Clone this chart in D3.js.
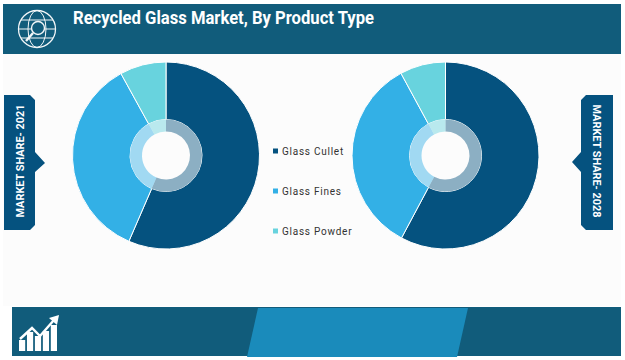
<!DOCTYPE html>
<html>
<head>
<meta charset="utf-8">
<script src="https://cdn.jsdelivr.net/npm/d3@7"></script>
<style>
  html, body { margin: 0; padding: 0; background: #fff; }
  svg { display: block; }
  text { font-family: "Roboto", "Liberation Sans", sans-serif; }
</style>
</head>
<body>
<svg width="625" height="360"></svg>
<script>
const width = 625;
const height = 360;

const title = "Recycled Glass Market, By Product Type";
const categories = ["Glass Cullet", "Glass Fines", "Glass Powder"];
const share2021 = [56.5, 35.5, 8];
const share2028 = [57.8, 34.3, 7.9];
const colors = ["#05527f", "#33b0e6", "#68d3de"];

const svg = d3.select("svg");

svg.append("rect").attr("width", width).attr("height", height).attr("fill", "#fff");
svg.append("rect").attr("x", 3).attr("y", 54).attr("width", 618).attr("height", 252).attr("fill", "#fcfcfc");

// header band
svg.append("rect").attr("x", 3).attr("y", 4).attr("width", 618).attr("height", 50).attr("fill", "#115c7b");
svg.append("text")
  .attr("x", 73)
  .attr("y", 23.5)
  .attr("fill", "#fff")
  .attr("font-size", 18)
  .attr("font-weight", 700)
  .attr("textLength", 301)
  .attr("lengthAdjust", "spacingAndGlyphs")
  .text(title);

// globe with magnifier
const globe = svg.append("g")
  .attr("transform", "translate(37,29)")
  .attr("fill", "none")
  .attr("stroke", "#f2f6f8")
  .attr("stroke-width", 1);
globe.append("circle").attr("r", 18.5).attr("stroke-width", 1.3);
globe.append("ellipse").attr("rx", 9).attr("ry", 18.5);
globe.append("line").attr("x1", -18.5).attr("x2", 18.5);
globe.append("line").attr("x1", -16).attr("x2", 16).attr("y1", -9).attr("y2", -9);
globe.append("line").attr("x1", -16).attr("x2", 16).attr("y1", 9).attr("y2", 9);
globe.append("circle").attr("cx", 1).attr("cy", -1).attr("r", 6.5).attr("fill", "#115c7b").attr("stroke-width", 1.4);
globe.append("line").attr("x1", -4).attr("y1", 4).attr("x2", -11).attr("y2", 12).attr("stroke-width", 2.4);

// footer band
svg.append("rect").attr("x", 12).attr("y", 307).attr("width", 609).attr("height", 49).attr("fill", "#115c7b");
svg.append("path")
  .attr("d", d3.line()([[258, 308], [468, 308], [457, 357], [247, 357]]) + "Z")
  .attr("fill", "#1a8bbb");

// footer icon: rising bars and arrow
const barHeights = [11, 19, 15, 20, 26];
const iconX = d3.scaleBand().domain(d3.range(barHeights.length)).range([19, 57]).paddingInner(0.22);
svg.append("g").selectAll("rect").data(barHeights).enter().append("rect")
  .attr("x", (d, i) => iconX(i))
  .attr("y", (d) => 351 - d)
  .attr("width", iconX.bandwidth())
  .attr("height", (d) => d)
  .attr("fill", "#fff");
svg.append("path")
  .attr("d", "M20,339 L32,328 L40,336 L54,320")
  .attr("fill", "none")
  .attr("stroke", "#fff")
  .attr("stroke-width", 2.4);
svg.append("path").attr("d", "M49,318 L59,315 L57,325 Z").attr("fill", "#fff");

// donuts
const pie = d3.pie().sort(null);
const outerArc = d3.arc().innerRadius(36).outerRadius(93.5);
const ringArc = d3.arc().innerRadius(24).outerRadius(36);

function drawDonut(cx, cy, values) {
  const g = svg.append("g").attr("transform", `translate(${cx},${cy})`);
  const arcs = pie(values);
  g.selectAll("path.slice").data(arcs).enter().append("path")
    .attr("class", "slice")
    .attr("d", outerArc)
    .attr("fill", (d, i) => colors[i])
    .attr("stroke", "#fff")
    .attr("stroke-width", 1);
  g.selectAll("path.ring").data(arcs).enter().append("path")
    .attr("class", "ring")
    .attr("d", ringArc)
    .attr("fill", (d, i) => colors[i])
    .attr("fill-opacity", 0.45);
}
drawDonut(166, 155.5, share2021);
drawDonut(445.5, 155.5, share2028);

// legend
const legendY = d3.scalePoint().domain(categories).range([151, 231]);
const legend = svg.append("g").selectAll("g").data(categories).enter().append("g")
  .attr("transform", (d) => `translate(273,${legendY(d)})`);
legend.append("rect")
  .attr("y", -2.5)
  .attr("width", 5)
  .attr("height", 5)
  .attr("fill", (d, i) => colors[i]);
legend.append("text")
  .attr("x", 9)
  .attr("y", 4)
  .attr("font-size", 10)
  .attr("letter-spacing", 0.75)
  .attr("fill", "#333")
  .text((d) => d);

// side tabs
function sideTab(d, labelX, labelY, label, angle) {
  svg.append("path").attr("d", d).attr("fill", "#05527f");
  svg.append("text")
    .attr("transform", `translate(${labelX},${labelY}) rotate(${angle})`)
    .attr("text-anchor", "middle")
    .attr("dominant-baseline", "central")
    .attr("font-size", 11.5)
    .attr("font-weight", 700)
    .attr("textLength", 113)
    .attr("lengthAdjust", "spacingAndGlyphs")
    .attr("fill", "#fff")
    .text(label);
}
sideTab("M4,95 L30,95 L35,100 L35,152 L45,163 L35,172 L35,225 L30,230 L4,230 Z", 19.5, 161, "MARKET SHARE- 2021", -90);
sideTab("M613,95 L586,95 L581,100 L581,152 L572,162 L581,172 L581,225 L586,230 L613,230 Z", 596.5, 161, "MARKET SHARE- 2028", 90);
</script>
</body>
</html>
